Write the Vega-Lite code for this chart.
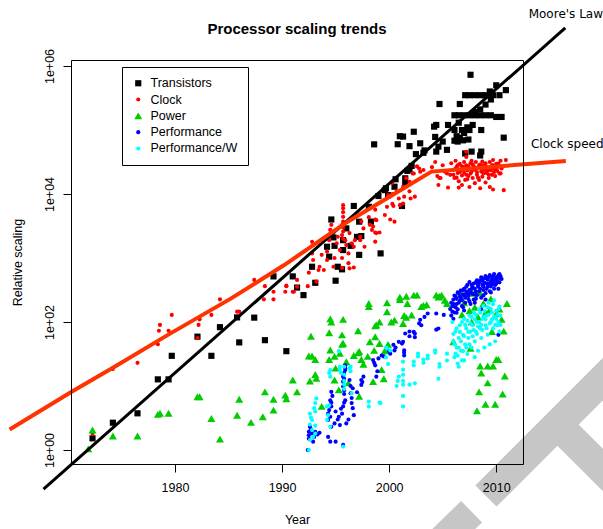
{
"$schema": "https://vega.github.io/schema/vega-lite/v6.json",
"width": 452, "height": 404,
"autosize": {"type": "none"},
"padding": {"left": 71, "top": 60, "right": 80, "bottom": 65},
"background": "white",
"title": {"text": "Processor scaling trends", "font": "Liberation Sans", "fontSize": 15, "fontWeight": "bold", "color": "black", "anchor": "middle", "offset": -29},
"config": {
  "view": {"stroke": null},
  "font": "Liberation Sans",
  "axis": {"domainColor": "black", "tickColor": "black", "labelColor": "black", "titleColor": "black", "labelFont": "Liberation Sans", "titleFont": "Liberation Sans", "labelFontSize": 12.5, "titleFontSize": 12.5, "titleFontWeight": "normal", "grid": false, "domainWidth": 1, "tickWidth": 1}
},
"resolve": {"axis": {"x": "independent", "y": "independent"}},
"layer": [
 {
  "data": {"values": [
    {"part": "a", "year": 2002.88, "value": 0.0178}, {"part": "a", "year": 2007.70, "value": 0.1086},
    {"part": "b", "year": 2009.04, "value": 0.191}, {"part": "b", "year": 2023.42, "value": 48.7},
    {"part": "c", "year": 2015.71, "value": 2.5}, {"part": "c", "year": 2023.42, "value": 0.129}]},
  "mark": {"type": "line", "color": "#c6c6c6", "strokeWidth": 30, "strokeCap": "butt", "clip": false},
  "encoding": {
    "x": {"field": "year", "type": "quantitative", "scale": {"domain": [1970.29, 2012.5], "nice": false, "zero": false}, "axis": null},
    "y": {"field": "value", "type": "quantitative", "scale": {"type": "log", "domain": [0.604, 1242000], "nice": false}, "axis": null},
    "detail": {"field": "part", "type": "nominal"}
  }
 },
 {
  "data": {"values": "series,year,value\nTransistors,1972.3,1.52\nTransistors,1974.2,2.67\nTransistors,1976.5,3.74\nTransistors,1978.4,12.7\nTransistors,1979.4,12.7\nTransistors,1979.7,29.6\nTransistors,1982.1,59\nTransistors,1983.4,29.6\nTransistors,1984.2,83\nTransistors,1985.8,118\nTransistors,1986.0,48\nTransistors,1987.4,117\nTransistors,1988.4,52\nTransistors,1989.2,516\nTransistors,1990.4,35\nTransistors,1991.0,516\nTransistors,1991.4,345\nTransistors,1992.0,263\nTransistors,1992.8,730\nTransistors,1993.1,410\nTransistors,1994.2,1500\nTransistors,1994.4,1050\nTransistors,1994.6,4000\nTransistors,1994.8,2100\nTransistors,1994.9,1550\nTransistors,1995.0,442\nTransistors,1995.2,730\nTransistors,1995.6,665\nTransistors,1995.7,1330\nTransistors,1995.7,1900\nTransistors,1996.0,2900\nTransistors,1996.4,1550\nTransistors,1996.7,6500\nTransistors,1997.0,2140\nTransistors,1997.2,3700\nTransistors,1997.2,1120\nTransistors,1997.4,2200\nTransistors,1998.1,6300\nTransistors,1998.3,3700\nTransistors,1998.6,59700\nTransistors,1999.2,1180\nTransistors,1999.0,9300\nTransistors,1999.6,11500\nTransistors,1999.7,12300\nTransistors,1999.9,9600\nTransistors,2000.5,13000\nTransistors,2000.6,17000\nTransistors,2000.8,60000\nTransistors,2001.3,79000\nTransistors,2001.0,80000\nTransistors,2001.2,6500\nTransistors,2001.5,17600\nTransistors,2001.5,14400\nTransistors,2001.7,23000\nTransistors,2001.9,56000\nTransistors,2001.9,24000\nTransistors,2002.1,27500\nTransistors,2002.3,94000\nTransistors,2002.5,42000\nTransistors,2002.9,62000\nTransistors,2003.2,44000\nTransistors,2003.3,48000\nTransistors,2004.2,113000\nTransistors,2004.3,78000\nTransistors,2004.4,120000\nTransistors,2004.4,46000\nTransistors,2004.6,55000\nTransistors,2004.7,255000\nTransistors,2005.0,66000\nTransistors,2005.4,49000\nTransistors,2005.5,120000\nTransistors,2006.1,170000\nTransistors,2006.1,100000\nTransistors,2006.1,68000\nTransistors,2006.3,80000\nTransistors,2006.4,66000\nTransistors,2006.5,130000\nTransistors,2006.6,255000\nTransistors,2006.6,76000\nTransistors,2006.8,100000\nTransistors,2006.9,69000\nTransistors,2007.0,90000\nTransistors,2007.1,350000\nTransistors,2007.1,43000\nTransistors,2007.3,110000\nTransistors,2007.4,71000\nTransistors,2007.5,100000\nTransistors,2007.5,350000\nTransistors,2007.6,730000\nTransistors,2007.7,46000\nTransistors,2007.8,120000\nTransistors,2008.0,350000\nTransistors,2008.5,350000\nTransistors,2008.5,40000\nTransistors,2008.6,100000\nTransistors,2008.6,46000\nTransistors,2009.0,350000\nTransistors,2009.4,400000\nTransistors,2009.7,350000\nTransistors,2010.0,500000\nTransistors,2010.3,350000\nTransistors,2010.9,420000\nTransistors,2010.7,76000\nTransistors,2006.5,170000\nTransistors,2007.0,170000\nTransistors,2007.5,170000\nTransistors,2008.0,170000\nTransistors,2008.5,170000\nTransistors,2009.0,170000\nTransistors,2009.5,170000\nTransistors,2010.0,160000\nTransistors,2010.5,160000\nTransistors,2009.5,300000\nTransistors,2009.0,250000\nTransistors,2008.5,210000\nTransistors,2008.0,190000\nClock,1972.3,1.8\nClock,1974.2,18.5\nClock,1976.5,23\nClock,1978.4,45\nClock,1978.5,73\nClock,1978.6,90\nClock,1979.4,73\nClock,1979.7,129\nClock,1982.1,56\nClock,1982.2,90\nClock,1982.3,110\nClock,1983.4,129\nClock,1984.2,226\nClock,1985.8,145\nClock,1986.0,145\nClock,1987.4,455\nClock,1988.3,226\nClock,1988.4,363\nClock,1989.2,297\nClock,1989.2,226\nClock,1990.3,297\nClock,1990.4,363\nClock,1990.4,370\nClock,1991.0,297\nClock,1991.1,297\nClock,1991.4,455\nClock,1991.4,355\nClock,1992.4,363\nClock,1992.5,590\nClock,1992.8,1790\nClock,1992.8,1180\nClock,1992.9,930\nClock,1993.2,427\nClock,1993.4,650\nClock,1993.5,730\nClock,1993.7,1120\nClock,1993.9,650\nClock,1994.2,930\nClock,1994.2,1260\nClock,1994.4,1900\nClock,1994.5,2750\nClock,1994.6,3300\nClock,1994.8,730\nClock,1994.9,1000\nClock,1995.1,1700\nClock,1995.2,2150\nClock,1995.4,1330\nClock,1995.6,2280\nClock,1995.6,3300\nClock,1995.7,6000\nClock,1995.7,4400\nClock,1995.7,3700\nClock,1995.7,6700\nClock,1995.7,3000\nClock,1995.7,5200\nClock,1995.7,2600\nClock,1995.7,2000\nClock,1995.6,1000\nClock,1995.6,700\nClock,1995.9,1900\nClock,1996.0,1590\nClock,1996.2,1180\nClock,1996.3,2450\nClock,1996.5,1700\nClock,1996.7,1500\nClock,1996.8,1900\nClock,1996.2,830\nClock,1996.3,690\nClock,1996.7,710\nClock,1997.3,1900\nClock,1997.3,2150\nClock,1997.6,2900\nClock,1997.7,1500\nClock,1997.4,3700\nClock,1998.1,4350\nClock,1998.2,3300\nClock,1998.4,2750\nClock,1998.5,3100\nClock,1998.8,3900\nClock,1998.8,2450\nClock,1998.7,5700\nClock,1998.7,4000\nClock,1998.7,2500\nClock,1998.7,1800\nClock,1999.1,2500\nClock,1999.6,4700\nClock,1999.8,6300\nClock,1999.9,9600\nClock,2000.1,4000\nClock,2000.5,3700\nClock,2000.3,15000\nClock,2000.3,10000\nClock,2000.3,7000\nClock,2000.4,6500\nClock,2000.7,11000\nClock,2000.9,8500\nClock,2001.0,6700\nClock,2001.3,7100\nClock,2001.3,12900\nClock,2001.4,9100\nClock,2001.6,17600\nClock,2001.9,11000\nClock,2002.0,8500\nClock,2002.4,9100\nClock,2001.9,15500\nClock,2002.2,21000\nClock,2002.3,20900\nClock,2002.6,27000\nClock,2002.8,25000\nClock,2002.9,22300\nClock,2003.2,23700\nClock,2004.0,26300\nClock,2004.3,31620\nClock,2004.5,19050\nClock,2004.6,13800\nClock,2004.7,17780\nClock,2004.8,17780\nClock,2005.0,28180\nClock,2005.2,22390\nClock,2005.4,20890\nClock,2005.5,12590\nClock,2005.7,19950\nClock,2005.8,30200\nClock,2006.0,23990\nClock,2006.1,17780\nClock,2006.2,33110\nClock,2006.3,26300\nClock,2006.4,21380\nClock,2006.5,12590\nClock,2006.5,15850\nClock,2006.6,29510\nClock,2006.7,23440\nClock,2006.8,19500\nClock,2006.8,13800\nClock,2006.9,26300\nClock,2007.0,31620\nClock,2007.0,21380\nClock,2007.1,16600\nClock,2007.2,45710\nClock,2007.2,38020\nClock,2007.2,28180\nClock,2007.3,23440\nClock,2007.4,19050\nClock,2007.5,25120\nClock,2007.5,12880\nClock,2007.6,30200\nClock,2007.7,22390\nClock,2007.8,17780\nClock,2007.9,26920\nClock,2008.0,23990\nClock,2008.0,14790\nClock,2008.1,31620\nClock,2008.2,19950\nClock,2008.3,25700\nClock,2008.4,16600\nClock,2008.5,12300\nClock,2008.5,28840\nClock,2008.6,22390\nClock,2008.7,18620\nClock,2008.8,27540\nClock,2008.9,23990\nClock,2009.0,15140\nClock,2009.0,30200\nClock,2009.1,21380\nClock,2009.2,26300\nClock,2009.3,17780\nClock,2009.4,12880\nClock,2009.4,31620\nClock,2009.5,23440\nClock,2009.6,19950\nClock,2009.7,11750\nClock,2009.7,28180\nClock,2009.8,25120\nClock,2009.9,19050\nClock,2010.0,29510\nClock,2010.1,22910\nClock,2010.2,26920\nClock,2010.3,20890\nClock,2010.4,33110\nClock,2010.5,25120\nClock,2010.7,11480\nClock,2010.9,33880\nClock,2006.0,20000\nClock,2006.2,25000\nClock,2006.4,28000\nClock,2006.6,22000\nClock,2006.8,27000\nClock,2007.0,24000\nClock,2007.2,20000\nClock,2007.4,27000\nClock,2007.6,21000\nClock,2007.8,29000\nClock,2008.0,26000\nClock,2008.2,22000\nClock,2008.4,28000\nClock,2008.6,25000\nClock,2008.8,21000\nClock,2009.0,27000\nClock,2009.2,23000\nClock,2009.4,26000\nClock,2009.6,28000\nClock,2009.8,22000\nClock,2010.0,24000\nClock,2010.2,30000\nClock,2010.4,21000\nClock,2006.3,18000\nClock,2007.3,17000\nClock,2008.3,18000\nClock,2009.3,20000\nClock,2010.3,27000\nClock,2007.7,33000\nClock,2008.7,32000\nClock,2009.7,34000\nPower,1971.9,1.04\nPower,1972.3,2.05\nPower,1974.2,1.65\nPower,1976.5,1.65\nPower,1978.4,3.6\nPower,1978.6,3.74\nPower,1979.4,3.74\nPower,1982.1,6.8\nPower,1982.3,6.8\nPower,1983.4,3.1\nPower,1984.2,1.48\nPower,1985.8,3.5\nPower,1986.0,6.2\nPower,1987.1,2.7\nPower,1988.2,3.3\nPower,1988.4,8.1\nPower,1989.2,6.2\nPower,1989.2,4.2\nPower,1990.3,7.2\nPower,1990.4,6.3\nPower,1991.0,12.4\nPower,1991.4,8.1\nPower,1992.5,29.5\nPower,1992.8,29.5\nPower,1993.1,26\nPower,1992.6,12\nPower,1993.2,13.2\nPower,1992.7,60\nPower,1993.1,15.1\nPower,1993.7,4.8\nPower,1994.4,68\nPower,1994.6,100\nPower,1994.5,112\nPower,1994.5,36.5\nPower,1994.4,26\nPower,1994.9,29\nPower,1995.4,32.5\nPower,1995.6,63\nPower,1995.6,44.7\nPower,1995.7,46.5\nPower,1995.7,110\nPower,1995.0,19\nPower,1994.9,12.4\nPower,1995.3,8.7\nPower,1996.0,24\nPower,1996.2,11.2\nPower,1996.7,30\nPower,1997.1,73\nPower,1997.1,33\nPower,1997.2,34.5\nPower,1997.2,6.9\nPower,1997.4,26\nPower,1997.6,21.9\nPower,1998.1,195\nPower,1998.1,174\nPower,1998.0,29\nPower,1998.2,49\nPower,1998.5,11.7\nPower,1998.7,59\nPower,1998.7,87\nPower,1998.8,90\nPower,1999.1,100\nPower,1998.6,36\nPower,1999.1,46\nPower,1999.6,35.5\nPower,1999.9,44.7\nPower,1999.8,200\nPower,1999.8,145\nPower,1999.3,18\nPower,1999.5,13\nPower,2000.2,100\nPower,2000.5,107\nPower,2001.0,225\nPower,2001.0,245\nPower,2001.3,95\nPower,2001.4,126\nPower,2001.6,118\nPower,2001.7,195\nPower,2002.1,129\nPower,2002.3,263\nPower,2002.6,263\nPower,2001.6,252\nPower,2003.0,174\nPower,2003.2,182\nPower,2003.5,186\nPower,2004.4,263\nPower,2004.6,245\nPower,2004.7,251\nPower,2004.9,263\nPower,2005.2,219\nPower,2005.4,195\nPower,2006.0,186\nPower,2006.6,297\nPower,2007.2,281\nPower,2007.8,281\nPower,2008.5,288\nPower,2008.8,195\nPower,2009.4,155\nPower,2010.0,135\nPower,2011.0,195\nPower,2009.6,71\nPower,2010.7,72\nPower,2006.0,49\nPower,2007.6,39\nPower,2008.5,20.5\nPower,2009.2,20.5\nPower,2009.7,20.5\nPower,2010.0,26\nPower,2010.2,26\nPower,2008.6,16\nPower,2010.8,14.3\nPower,2009.2,11.2\nPower,2008.4,8.1\nPower,2010.6,7.5\nPower,2009.0,5.2\nPower,2009.9,5.2\nPower,2008.2,4.1\nPower,2007.0,200\nPower,2007.5,150\nPower,2008.0,170\nPower,2008.3,120\nPower,2009.0,140\nPower,2009.5,230\nPower,2010.3,160\nPower,2010.5,110\nPower,2007.7,100\nPower,2006.8,130\nPerformance,1992.4,1.0\nPerformance,1992.5,1.93\nPerformance,1992.5,1.7\nPerformance,1992.8,1.82\nPerformance,1993.1,1.93\nPerformance,1993.5,1.86\nPerformance,1992.6,2.3\nPerformance,1992.9,1.35\nPerformance,1994.3,1.6\nPerformance,1994.5,1.35\nPerformance,1995.0,1.35\nPerformance,1995.7,1.2\nPerformance,1994.3,3.7\nPerformance,1994.3,2.95\nPerformance,1994.6,2.3\nPerformance,1994.5,6\nPerformance,1994.6,8.1\nPerformance,1994.6,4.8\nPerformance,1994.9,2.6\nPerformance,1995.3,3.3\nPerformance,1995.6,3.7\nPerformance,1995.4,2.45\nPerformance,1995.7,4.8\nPerformance,1995.9,6\nPerformance,1995.7,9.8\nPerformance,1995.7,14\nPerformance,1995.9,17.8\nPerformance,1995.9,21\nPerformance,1995.7,11.7\nPerformance,1995.8,7.5\nPerformance,1996.3,12.4\nPerformance,1996.4,7.7\nPerformance,1996.5,5.4\nPerformance,1996.7,3.5\nPerformance,1996.6,9.2\nPerformance,1996.0,2.6\nPerformance,1997.4,12.4\nPerformance,1997.4,10.4\nPerformance,1997.6,14\nPerformance,1998.5,25.5\nPerformance,1998.7,21\nPerformance,1998.8,14\nPerformance,1999.0,27\nPerformance,1999.5,29\nPerformance,1999.8,39\nPerformance,2000.1,32\nPerformance,2000.5,36\nPerformance,2000.4,44\nPerformance,2000.9,49\nPerformance,2001.3,49\nPerformance,2001.4,36\nPerformance,2001.4,30\nPerformance,2001.5,66\nPerformance,2001.9,71\nPerformance,2002.4,66\nPerformance,2002.4,58\nPerformance,2002.9,108\nPerformance,2003.0,89\nPerformance,2003.6,136\nPerformance,2004.4,136\nPerformance,2004.6,79\nPerformance,2005.1,129\nPerformance,2004.4,76\nPerformance,1992.5,1.5\nPerformance,1992.7,2.1\nPerformance,1993.0,1.6\nPerformance,1993.3,1.75\nPerformance,1994.4,4.2\nPerformance,1994.5,3.3\nPerformance,1994.6,5.5\nPerformance,1994.7,7\nPerformance,1995.0,4\nPerformance,1995.2,3\nPerformance,1995.5,4.4\nPerformance,1995.8,5.5\nPerformance,1995.8,8.5\nPerformance,1995.8,13\nPerformance,1995.8,16\nPerformance,1995.9,19\nPerformance,1996.4,10\nPerformance,1996.5,6.5\nPerformance,1996.6,4.5\nPerformance,1996.2,3\nPerformance,1997.5,11.5\nPerformance,1997.0,8\nPerformance,1998.6,23\nPerformance,1998.9,17\nPerformance,1999.3,30\nPerformance,2000.0,35\nPerformance,2000.6,40\nPerformance,2001.2,46\nPerformance,2001.4,33\nPerformance,2001.9,60\nPerformance,2002.3,70\nPerformance,2002.8,95\nPerformance,2003.3,120\nPerformance,2005.8,126\nPerformance,2005.9,178\nPerformance,2006.0,224\nPerformance,2006.1,141\nPerformance,2006.2,251\nPerformance,2006.3,191\nPerformance,2006.4,158\nPerformance,2006.5,282\nPerformance,2006.6,214\nPerformance,2006.7,240\nPerformance,2006.8,178\nPerformance,2006.9,316\nPerformance,2007.0,263\nPerformance,2007.1,200\nPerformance,2007.2,355\nPerformance,2007.3,282\nPerformance,2007.4,229\nPerformance,2007.5,316\nPerformance,2007.6,191\nPerformance,2007.7,380\nPerformance,2007.8,275\nPerformance,2007.9,224\nPerformance,2008.0,331\nPerformance,2008.1,417\nPerformance,2008.2,263\nPerformance,2008.3,355\nPerformance,2008.4,302\nPerformance,2008.5,447\nPerformance,2008.6,240\nPerformance,2008.7,380\nPerformance,2008.8,316\nPerformance,2008.9,479\nPerformance,2009.0,282\nPerformance,2009.1,398\nPerformance,2009.2,355\nPerformance,2009.3,501\nPerformance,2009.4,302\nPerformance,2009.5,427\nPerformance,2009.6,380\nPerformance,2009.7,513\nPerformance,2009.8,331\nPerformance,2009.9,457\nPerformance,2010.0,398\nPerformance,2010.1,501\nPerformance,2010.2,537\nPerformance,2010.3,417\nPerformance,2010.4,479\nPerformance,2006.0,112\nPerformance,2007.0,151\nPerformance,2008.0,200\nPerformance,2009.0,224\nPerformance,2010.2,63\nPerformance,2008.6,158\nPerformance,2005.7,160\nPerformance,2005.8,200\nPerformance,2005.9,145\nPerformance,2006.0,190\nPerformance,2006.1,260\nPerformance,2006.2,170\nPerformance,2006.3,230\nPerformance,2006.4,290\nPerformance,2006.5,200\nPerformance,2006.6,250\nPerformance,2006.7,310\nPerformance,2006.8,220\nPerformance,2006.9,270\nPerformance,2007.0,330\nPerformance,2007.1,240\nPerformance,2007.2,300\nPerformance,2007.3,380\nPerformance,2007.4,260\nPerformance,2007.5,420\nPerformance,2007.6,290\nPerformance,2007.7,330\nPerformance,2007.8,350\nPerformance,2007.9,400\nPerformance,2008.0,270\nPerformance,2008.1,300\nPerformance,2008.2,450\nPerformance,2008.3,380\nPerformance,2008.4,410\nPerformance,2008.5,330\nPerformance,2008.6,500\nPerformance,2008.7,440\nPerformance,2008.8,360\nPerformance,2008.9,410\nPerformance,2009.0,520\nPerformance,2009.1,330\nPerformance,2009.2,460\nPerformance,2009.3,400\nPerformance,2009.4,540\nPerformance,2009.5,360\nPerformance,2009.6,470\nPerformance,2009.7,420\nPerformance,2009.8,560\nPerformance,2009.9,380\nPerformance,2010.0,500\nPerformance,2010.1,440\nPerformance,2010.3,560\nPerformance,2010.4,520\nPerformance,2010.5,470\nPerformance,2006.3,140\nPerformance,2006.9,170\nPerformance,2007.5,210\nPerformance,2008.1,230\nPerformance,2008.8,260\nPerformance,2009.5,290\nPerformance,2010.2,330\nPerformance/W,1992.5,1.0\nPerformance/W,1992.6,1.43\nPerformance/W,1992.8,2.05\nPerformance/W,1992.8,2.95\nPerformance/W,1992.6,3.7\nPerformance/W,1993.1,5.4\nPerformance/W,1993.2,6.4\nPerformance/W,1993.1,4\nPerformance/W,1993.1,2.4\nPerformance/W,1993.1,1.8\nPerformance/W,1994.2,4.8\nPerformance/W,1994.2,2.95\nPerformance/W,1994.4,5\nPerformance/W,1994.5,2.3\nPerformance/W,1994.5,17.8\nPerformance/W,1994.5,14\nPerformance/W,1995.3,35\nPerformance/W,1995.4,20\nPerformance/W,1995.5,16\nPerformance/W,1995.8,20\nPerformance/W,1995.8,12\nPerformance/W,1995.8,9\nPerformance/W,1996.4,20\nPerformance/W,1996.5,7.7\nPerformance/W,1996.3,19\nPerformance/W,1995.7,1.13\nPerformance/W,1998.1,5.7\nPerformance/W,1998.1,4.8\nPerformance/W,1999.1,5.5\nPerformance/W,1999.2,5.4\nPerformance/W,1999.7,40\nPerformance/W,1999.7,28\nPerformance/W,1999.9,22\nPerformance/W,1999.8,39\nPerformance/W,2000.1,36\nPerformance/W,2000.7,10\nPerformance/W,2000.9,14\nPerformance/W,2001.3,24\nPerformance/W,2001.3,15\nPerformance/W,2001.3,10.5\nPerformance/W,2001.3,7\nPerformance/W,2001.3,4.8\nPerformance/W,2001.9,10.5\nPerformance/W,2002.4,11\nPerformance/W,2002.3,21\nPerformance/W,2002.7,29\nPerformance/W,2003.2,26\nPerformance/W,2003.6,30\nPerformance/W,2004.3,36\nPerformance/W,2004.6,13\nPerformance/W,2004.7,22\nPerformance/W,2005.4,32\nPerformance/W,2005.4,25\nPerformance/W,1992.6,2.5\nPerformance/W,1992.7,3.2\nPerformance/W,1992.9,1.6\nPerformance/W,1993.0,4.5\nPerformance/W,1994.3,3.5\nPerformance/W,1994.4,16\nPerformance/W,1995.4,18\nPerformance/W,1995.8,15\nPerformance/W,1995.8,10.5\nPerformance/W,1996.4,17\nPerformance/W,2000.8,12\nPerformance/W,2001.3,18\nPerformance/W,2001.3,12\nPerformance/W,2002.3,24\nPerformance/W,2002.7,32\nPerformance/W,2003.2,23\nPerformance/W,2003.6,27\nPerformance/W,2004.3,33\nPerformance/W,2004.7,20\nPerformance/W,2005.9,100\nPerformance/W,2006.0,50.1\nPerformance/W,2006.1,28.2\nPerformance/W,2006.2,70.8\nPerformance/W,2006.3,39.8\nPerformance/W,2006.4,22.4\nPerformance/W,2006.5,56.2\nPerformance/W,2006.6,89.1\nPerformance/W,2006.7,35.5\nPerformance/W,2006.8,25.1\nPerformance/W,2006.9,63.1\nPerformance/W,2007.0,112\nPerformance/W,2007.1,44.7\nPerformance/W,2007.2,79.4\nPerformance/W,2007.3,31.6\nPerformance/W,2007.4,56.2\nPerformance/W,2007.5,126\nPerformance/W,2007.6,70.8\nPerformance/W,2007.7,39.8\nPerformance/W,2007.8,89.1\nPerformance/W,2007.9,141\nPerformance/W,2008.0,50.1\nPerformance/W,2008.1,70.8\nPerformance/W,2008.2,100\nPerformance/W,2008.3,35.5\nPerformance/W,2008.4,158\nPerformance/W,2008.5,79.4\nPerformance/W,2008.6,56.2\nPerformance/W,2008.7,112\nPerformance/W,2008.8,178\nPerformance/W,2008.9,39.8\nPerformance/W,2009.0,89.1\nPerformance/W,2009.1,126\nPerformance/W,2009.2,63.1\nPerformance/W,2009.3,200\nPerformance/W,2009.4,44.7\nPerformance/W,2009.5,100\nPerformance/W,2009.6,141\nPerformance/W,2009.7,79.4\nPerformance/W,2009.8,219\nPerformance/W,2009.9,50.1\nPerformance/W,2010.0,112\nPerformance/W,2010.1,89.1\nPerformance/W,2010.2,158\nPerformance/W,2010.3,70.8\nPerformance/W,2010.4,126\nPerformance/W,2006.5,20\nPerformance/W,2007.0,25.1\nPerformance/W,2008.0,28.2\nPerformance/W,2006.0,65\nPerformance/W,2006.1,45\nPerformance/W,2006.2,32\nPerformance/W,2006.3,80\nPerformance/W,2006.4,30\nPerformance/W,2006.5,40\nPerformance/W,2006.6,70\nPerformance/W,2006.7,50\nPerformance/W,2006.8,100\nPerformance/W,2006.9,35\nPerformance/W,2007.0,60\nPerformance/W,2007.1,90\nPerformance/W,2007.2,40\nPerformance/W,2007.3,105\nPerformance/W,2007.4,70\nPerformance/W,2007.5,45\nPerformance/W,2007.6,95\nPerformance/W,2007.7,120\nPerformance/W,2007.8,60\nPerformance/W,2007.9,75\nPerformance/W,2008.0,110\nPerformance/W,2008.1,130\nPerformance/W,2008.2,65\nPerformance/W,2008.3,85\nPerformance/W,2008.4,100\nPerformance/W,2008.5,140\nPerformance/W,2008.6,90\nPerformance/W,2008.7,75\nPerformance/W,2008.8,120\nPerformance/W,2008.9,150\nPerformance/W,2009.0,110\nPerformance/W,2009.1,80\nPerformance/W,2009.2,170\nPerformance/W,2009.3,130\nPerformance/W,2009.4,95\nPerformance/W,2009.5,160\nPerformance/W,2009.6,110\nPerformance/W,2009.7,190\nPerformance/W,2009.8,120\nPerformance/W,2009.9,90\nPerformance/W,2010.0,150\nPerformance/W,2010.1,130\nPerformance/W,2010.2,100\nPerformance/W,2010.3,175\nPerformance/W,2010.4,90", "format": {"type": "csv", "parse": {"year": "number", "value": "number"}}},
  "mark": {"type": "point", "filled": true, "opacity": 1, "strokeWidth": 0, "clip": false},
  "encoding": {
    "x": {"field": "year", "type": "quantitative", "scale": {"domain": [1970.29, 2012.5], "nice": false, "zero": false},
          "axis": {"orient": "bottom", "values": [1980, 1990, 2000, 2010], "format": "d", "title": "Year", "tickSize": 8, "labelPadding": 9, "titlePadding": 20, "domain": true, "labelFlush": false, "labelOverlap": false, "zindex": 1}},
    "y": {"field": "value", "type": "quantitative", "scale": {"type": "log", "domain": [0.604, 1242000], "nice": false},
          "axis": {"orient": "left", "values": [1, 100, 10000, 1000000], "labelExpr": "replace(format(datum.value, '.0e'), 'e+', 'e+0')", "labelAngle": 270, "labelAlign": "center", "labelBaseline": "bottom", "tickSize": 8, "labelPadding": 7, "title": "Relative scaling", "titlePadding": 19, "domain": true, "labelFlush": false, "labelOverlap": false, "zindex": 1}},
    "color": {"field": "series", "type": "nominal", "scale": {"domain": ["Transistors", "Clock", "Power", "Performance", "Performance/W"], "range": ["#000000", "#ff0000", "#00cd00", "#0000ff", "#00ffff"]},
              "legend": {"orient": "none", "legendX": 51, "legendY": 7, "title": null, "strokeColor": "black", "fillColor": "white", "padding": 10, "labelFontSize": 12.5, "labelFont": "Liberation Sans", "labelColor": "black", "rowPadding": 3.3, "labelOffset": 6, "symbolStrokeWidth": 0}},
    "shape": {"field": "series", "type": "nominal", "scale": {"domain": ["Transistors", "Clock", "Power", "Performance", "Performance/W"], "range": ["square", "circle", "triangle-up", "circle", "circle"]}},
    "size": {"field": "series", "type": "nominal", "scale": {"type": "ordinal", "domain": ["Transistors", "Clock", "Power", "Performance", "Performance/W"], "range": [38, 17, 64, 17, 17]}}
  }
 },
 {
  "data": {"values": [{"year": 1967.72, "value": 0.244}, {"year": 2016.45, "value": 3930000}]},
  "mark": {"type": "line", "color": "black", "strokeWidth": 3, "strokeCap": "butt", "clip": false},
  "encoding": {
    "x": {"field": "year", "type": "quantitative", "scale": {"domain": [1970.29, 2012.5], "nice": false, "zero": false}, "axis": {"orient": "top", "labels": false, "ticks": false, "title": null, "domain": true, "zindex": 1}},
    "y": {"field": "value", "type": "quantitative", "scale": {"type": "log", "domain": [0.604, 1242000], "nice": false}, "axis": {"orient": "right", "labels": false, "ticks": false, "title": null, "domain": true, "zindex": 1}}
  }
 },
 {
  "data": {"values": [{"year": 1964.56, "value": 2.09}, {"year": 1970.31, "value": 8.05}, {"year": 1974.44, "value": 20.4}, {"year": 1979.46, "value": 64.6}, {"year": 1985.21, "value": 232}, {"year": 1990.2, "value": 776}, {"year": 1995.97, "value": 3548}, {"year": 1999.77, "value": 8511}, {"year": 2003.95, "value": 22390}, {"year": 2016.5, "value": 32810}]},
  "mark": {"type": "line", "color": "#ff3300", "strokeWidth": 4, "strokeCap": "butt", "clip": false},
  "encoding": {
    "x": {"field": "year", "type": "quantitative", "scale": {"domain": [1970.29, 2012.5], "nice": false, "zero": false}, "axis": null},
    "y": {"field": "value", "type": "quantitative", "scale": {"type": "log", "domain": [0.604, 1242000], "nice": false}, "axis": null}
  }
 },
 {
  "data": {"values": [{"label": "Moore's Law", "year": 2013.03, "value": 6490000}, {"label": "Clock speed", "year": 2013.24, "value": 60400}]},
  "mark": {"type": "text", "font": "DejaVu Sans", "fontSize": 12, "align": "left", "baseline": "middle", "color": "black", "clip": false},
  "encoding": {
    "x": {"field": "year", "type": "quantitative", "scale": {"domain": [1970.29, 2012.5], "nice": false, "zero": false}, "axis": null},
    "y": {"field": "value", "type": "quantitative", "scale": {"type": "log", "domain": [0.604, 1242000], "nice": false}, "axis": null},
    "text": {"field": "label", "type": "nominal"}
  }
 }
]
}
